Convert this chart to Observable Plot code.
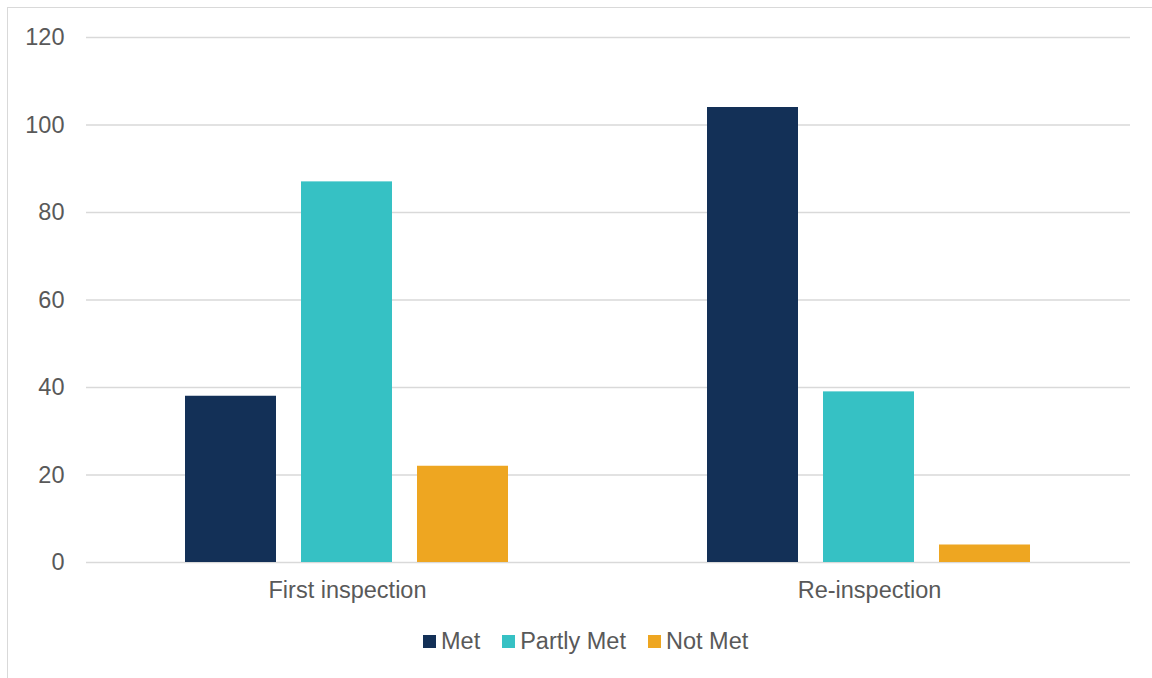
<!DOCTYPE html>
<html>
<head>
<meta charset="utf-8">
<script src="https://cdn.jsdelivr.net/npm/d3@7"></script>
<script src="https://cdn.jsdelivr.net/npm/@observablehq/plot@0.6"></script>
<style>
  html, body { margin: 0; padding: 0; background: #fff; }
  body { width: 1152px; height: 678px; position: relative; overflow: hidden; font-family: "Liberation Sans", Arial, sans-serif; }
  #frame { position: absolute; left: 7px; top: 7px; width: 1200px; height: 720px; border-left: 1.5px solid #d9d9d9; border-top: 1.5px solid #d9d9d9; box-sizing: border-box; }
  #chart { position: absolute; left: 0; top: 0; }
  #legend { position: absolute; left: 423px; top: 627px; display: flex; align-items: center; font-size: 23.5px; line-height: 28px; color: #595959; }
  .item { display: flex; align-items: center; margin-right: 22px; }
  .sw { width: 13px; height: 13px; margin-right: 5px; }
</style>
</head>
<body>
<div id="frame"></div>
<div id="chart"></div>
<div id="legend"></div>
<script>
const categories = ["First inspection", "Re-inspection"];
const series = ["Met", "Partly Met", "Not Met"];
const metValues = [38, 104];
const partlyMetValues = [87, 39];
const notMetValues = [22, 4];
const colors = ["#133057", "#36c1c4", "#eea621"];
const yTicks = [0, 20, 40, 60, 80, 100, 120];

const valuesBySeries = [metValues, partlyMetValues, notMetValues];
const data = [];
categories.forEach((c, i) => {
  series.forEach((s, j) => data.push({category: c, series: s, value: valuesBySeries[j][i]}));
});

const chart = Plot.plot({
  width: 1152,
  height: 620,
  marginLeft: 85,
  marginRight: 22,
  marginTop: 37,
  marginBottom: 58,
  style: {fontFamily: "'Liberation Sans', Arial, sans-serif", fontSize: "23.5px", color: "#595959", background: "transparent"},
  fx: {domain: categories, padding: 0, label: null},
  x: {domain: series, paddingInner: 0.2155, paddingOuter: 0.845, axis: null},
  y: {domain: [0, 120], label: null},
  color: {domain: series, range: colors},
  marks: [
    Plot.gridY(yTicks, {stroke: "#d9d9d9", strokeOpacity: 1, strokeWidth: 1.3}),
    Plot.barY(data, {fx: "category", x: "series", y: "value", fill: "series"}),
    Plot.axisY(yTicks, {tickSize: 0, tickPadding: 22, fill: "#595959", fontSize: 23.5, label: null}),
    Plot.axisFx({anchor: "bottom", tickSize: 0, tickPadding: 19, fill: "#595959", fontSize: 23.5, label: null})
  ]
});
document.getElementById("chart").appendChild(chart);

const legend = document.getElementById("legend");
series.forEach((s, i) => {
  const item = document.createElement("div");
  item.className = "item";
  const sw = document.createElement("div");
  sw.className = "sw";
  sw.style.background = colors[i];
  const t = document.createElement("span");
  t.textContent = s;
  item.appendChild(sw);
  item.appendChild(t);
  legend.appendChild(item);
});
</script>
</body>
</html>
